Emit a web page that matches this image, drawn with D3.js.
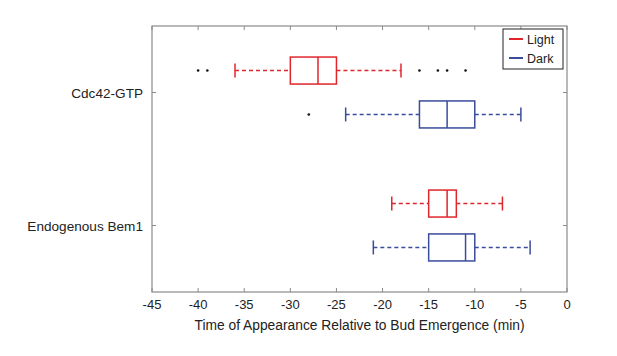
<!DOCTYPE html>
<html>
<head>
<meta charset="utf-8">
<script src="https://cdn.jsdelivr.net/npm/d3@7"></script>
<style>
  body { margin: 0; background: #fff; }
  text { font-family: "Liberation Sans", Arial, sans-serif; fill: #222; }
</style>
</head>
<body>
<div id="chart"></div>
<script>
const W = 617, H = 356;
const margin = { top: 26, right: 50, bottom: 64, left: 152 };
const width = W - margin.left - margin.right;
const height = H - margin.top - margin.bottom;

const categories = ["Cdc42-GTP", "Endogenous Bem1"];
const series = ["Light", "Dark"];
const colors = { Light: "#e0262c", Dark: "#3a4c9c" };
const xTicks = [-45, -40, -35, -30, -25, -20, -15, -10, -5, 0];

// five-number summaries: [whiskerLow, q1, median, q3, whiskerHigh]
const cdc42Light = [-36, -30, -27, -25, -18];
const cdc42Dark = [-24, -16, -13, -10, -5];
const bem1Light = [-19, -15, -13, -12, -7];
const bem1Dark = [-21, -15, -11, -10, -4];
const cdc42LightOutliers = [-40, -39, -16, -14, -13, -11];
const cdc42DarkOutliers = [-28];
const bem1LightOutliers = [];
const bem1DarkOutliers = [];

const boxes = [
  { cat: 0, s: "Light", v: cdc42Light, out: cdc42LightOutliers },
  { cat: 0, s: "Dark", v: cdc42Dark, out: cdc42DarkOutliers },
  { cat: 1, s: "Light", v: bem1Light, out: bem1LightOutliers },
  { cat: 1, s: "Dark", v: bem1Dark, out: bem1DarkOutliers }
];

const x = d3.scaleLinear().domain([-45, 0]).range([0, width]);
const y = d3.scaleLinear().domain([0.5, 2.5]).range([0, height]);
const offset = { Light: -0.165, Dark: 0.165 };
const boxH = 27, capH = 14;

const svg = d3.select("#chart").append("svg")
  .attr("width", W).attr("height", H);
const g = svg.append("g").attr("transform", `translate(${margin.left},${margin.top})`);

// frame
g.append("rect").attr("width", width).attr("height", height)
  .attr("fill", "none").attr("stroke", "#8a8a8a").attr("stroke-width", 1.2);

// ticks point inward on all four sides
const tickG = g.append("g").attr("stroke", "#8a8a8a");
xTicks.forEach(t => {
  tickG.append("line").attr("x1", x(t)).attr("x2", x(t)).attr("y1", height).attr("y2", height - 4);
  tickG.append("line").attr("x1", x(t)).attr("x2", x(t)).attr("y1", 0).attr("y2", 4);
});
categories.forEach((c, i) => {
  tickG.append("line").attr("x1", 0).attr("x2", 4).attr("y1", y(i + 1)).attr("y2", y(i + 1));
  tickG.append("line").attr("x1", width).attr("x2", width - 4).attr("y1", y(i + 1)).attr("y2", y(i + 1));
});

g.append("g").selectAll("text").data(xTicks).join("text")
  .attr("x", d => x(d)).attr("y", height + 17)
  .attr("text-anchor", "middle").style("font-size", "13px")
  .text(d => d);

g.append("g").selectAll("text").data(categories).join("text")
  .attr("x", -9).attr("y", (d, i) => y(i + 1) + 5)
  .attr("text-anchor", "end").style("font-size", "13.6px")
  .text(d => d);

g.append("text")
  .attr("x", width / 2).attr("y", height + 38)
  .attr("text-anchor", "middle").style("font-size", "13.8px")
  .text("Time of Appearance Relative to Bud Emergence (min)");

// boxes
boxes.forEach(b => {
  const cy = y(b.cat + 1 + offset[b.s]);
  const col = colors[b.s];
  const bg = g.append("g").attr("stroke", col).attr("stroke-width", 1.5).attr("fill", "none");
  const [lo, q1, med, q3, hi] = b.v;
  bg.append("line").attr("x1", x(lo)).attr("x2", x(q1)).attr("y1", cy).attr("y2", cy)
    .attr("stroke-dasharray", "4,3");
  bg.append("line").attr("x1", x(q3)).attr("x2", x(hi)).attr("y1", cy).attr("y2", cy)
    .attr("stroke-dasharray", "4,3");
  bg.append("line").attr("x1", x(lo)).attr("x2", x(lo)).attr("y1", cy - capH / 2).attr("y2", cy + capH / 2);
  bg.append("line").attr("x1", x(hi)).attr("x2", x(hi)).attr("y1", cy - capH / 2).attr("y2", cy + capH / 2);
  bg.append("rect").attr("x", x(q1)).attr("y", cy - boxH / 2)
    .attr("width", x(q3) - x(q1)).attr("height", boxH);
  bg.append("line").attr("x1", x(med)).attr("x2", x(med)).attr("y1", cy - boxH / 2).attr("y2", cy + boxH / 2);
  g.append("g").selectAll("circle").data(b.out).join("circle")
    .attr("cx", d => x(d)).attr("cy", cy).attr("r", 1.3).attr("fill", "#111");
});

// legend
const lg = g.append("g").attr("transform", `translate(${width - 64},${3})`);
lg.append("rect").attr("width", 60).attr("height", 40)
  .attr("fill", "#fff").attr("stroke", "#222").attr("stroke-width", 1);
series.forEach((s, i) => {
  const ly = 10 + i * 19;
  lg.append("line").attr("x1", 6).attr("x2", 20).attr("y1", ly).attr("y2", ly)
    .attr("stroke", colors[s]).attr("stroke-width", 2);
  lg.append("text").attr("x", 24).attr("y", ly + 4.5).style("font-size", "12.5px").text(s);
});
</script>
</body>
</html>
